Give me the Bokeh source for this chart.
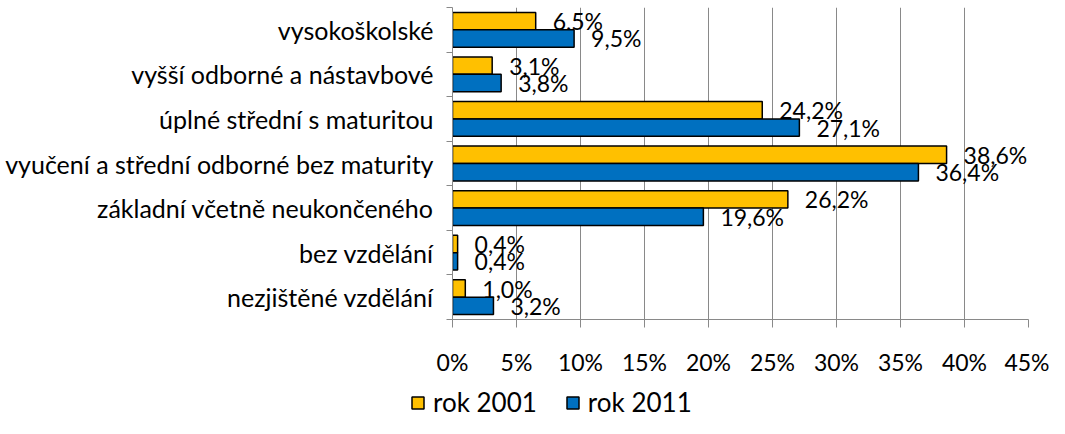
from bokeh.plotting import figure
from bokeh.models import ColumnDataSource, Range1d, FixedTicker, PrintfTickFormatter, Legend, LegendItem
from bokeh.embed import file_html
from bokeh.resources import INLINE
from bokeh.core.properties import value

categories = [
    "vysokoškolské",
    "vyšší odborné a nástavbové",
    "úplné střední s maturitou",
    "vyučení a střední odborné bez maturity",
    "základní včetně neukončeného",
    "bez vzdělání",
    "nezjištěné vzdělání",
]
rok_2001 = [6.5, 3.1, 24.2, 38.6, 26.2, 0.4, 1.0]
rok_2011 = [9.5, 3.8, 27.1, 36.4, 19.6, 0.4, 3.2]
series_names = ["rok 2001", "rok 2011"]
series_colors = ["#FFC000", "#0070C0"]
x_ticks = [0, 5, 10, 15, 20, 25, 30, 35, 40, 45]

FONT = "Lato"
FS = "23px"
FS_CAT = "25px"
FS_LEG = "26px"
GRAY = "#898989"

n = len(categories)
centers = [n - 1 - i + 0.5 for i in range(n)]
boundaries = list(range(n + 1))
bar_h = 0.39


def fmt(v):
    return f"{v:.1f}".replace(".", ",") + "%"


p = figure(width=1049, height=378, x_range=Range1d(0, 45), y_range=Range1d(0, n),
           output_backend="svg", toolbar_location=None,
           min_border_left=452, min_border_right=21, min_border_top=7, min_border_bottom=54)
p.outline_line_color = None
p.background_fill_color = "white"
p.border_fill_color = "white"

# grid
p.ygrid.grid_line_color = None
p.xgrid.grid_line_color = GRAY
p.xgrid.grid_line_width = 1

# x axis
p.xaxis.ticker = FixedTicker(ticks=x_ticks)
p.xaxis.formatter = PrintfTickFormatter(format="%d%%")
p.xaxis.axis_line_color = GRAY
p.xaxis.major_tick_line_color = GRAY
p.xaxis.major_tick_out = 8
p.xaxis.major_tick_in = 0
p.xaxis.minor_tick_line_color = None
p.xaxis.major_label_text_font = FONT
p.xaxis.major_label_text_font_size = FS
p.xaxis.major_label_text_color = "black"
p.xaxis.major_label_standoff = 20

# y axis
p.yaxis.ticker = FixedTicker(ticks=centers, minor_ticks=boundaries)
p.yaxis.major_label_overrides = {c: cat for c, cat in zip(centers, categories)}
p.yaxis.axis_line_color = GRAY
p.yaxis.major_tick_line_color = None
p.yaxis.major_tick_in = 0
p.yaxis.major_tick_out = 0
p.yaxis.minor_tick_line_color = GRAY
p.yaxis.minor_tick_in = 0
p.yaxis.minor_tick_out = 6
p.yaxis.major_label_text_font = FONT
p.yaxis.major_label_text_font_size = FS_CAT
p.yaxis.major_label_text_color = "black"
p.yaxis.major_label_standoff = 13

for k, (vals, color) in enumerate(zip([rok_2001, rok_2011], series_colors)):
    shift = bar_h / 2 if k == 0 else -bar_h / 2
    src = ColumnDataSource(dict(
        y=[c + shift for c in centers],
        v=vals,
        lbl=[fmt(v) for v in vals],
    ))
    p.hbar(y="y", left=0, right="v", height=bar_h, source=src,
           fill_color=color, line_color="black", line_width=1.5)
    p.text(x="v", y="y", text="lbl", source=src, x_offset=17,
           text_align="left", text_baseline="middle",
           text_font=value(FONT), text_font_size=FS, text_color="black")

# legend strip below the chart (separate root so its frame spans the full width)
pl = figure(width=1049, height=40, x_range=Range1d(0, 1), y_range=Range1d(0, 1),
            output_backend="svg", toolbar_location=None,
            x_axis_location=None, y_axis_location=None, min_border=0)
pl.outline_line_color = None
pl.grid.grid_line_color = None
leg_renderers = [pl.hbar(y=[0], left=[0], right=[0], height=0, fill_color=c,
                         line_color="black", line_width=1.5)
                 for c in series_colors]
legend = Legend(items=[LegendItem(label=nm, renderers=[r]) for nm, r in zip(series_names, leg_renderers)],
                orientation="horizontal", location=(410, 0),
                glyph_width=15, glyph_height=15, label_standoff=8, spacing=28,
                padding=0, margin=0, border_line_color=None, background_fill_alpha=0,
                label_text_font=FONT, label_text_font_size=FS_LEG, label_text_color="black")
pl.add_layout(legend)

open("out.html", "w").write(file_html([p, pl], INLINE))
